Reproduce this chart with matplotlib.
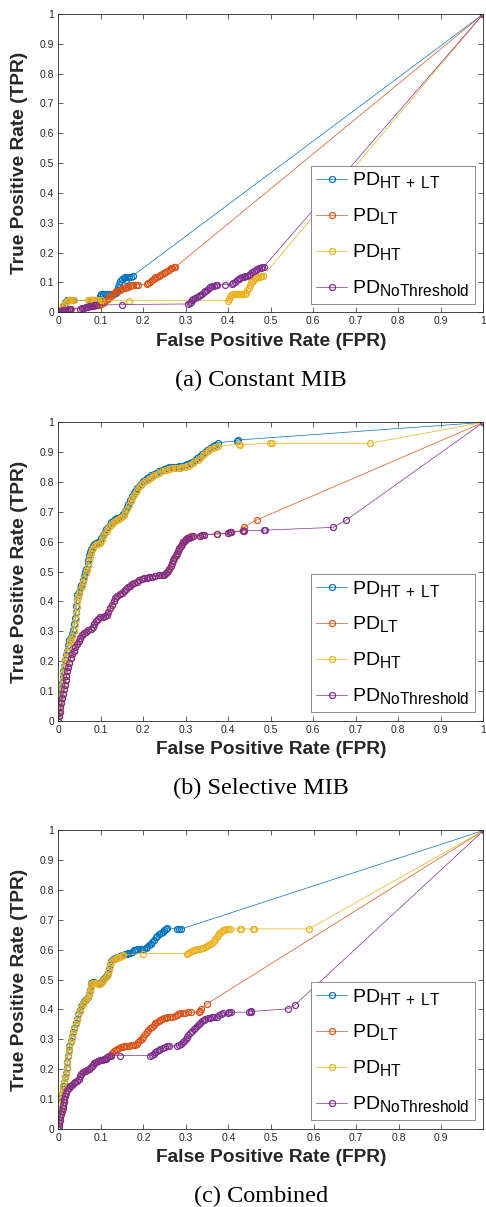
import matplotlib
matplotlib.use("Agg")
import matplotlib.pyplot as plt
import matplotlib._mathtext as mt

# MATLAB-style subscripts are only a little smaller than the base text
mt.SHRINK_FACTOR = 0.8

plt.rcParams["font.family"] = "Liberation Sans"
plt.rcParams["mathtext.fontset"] = "custom"
plt.rcParams["mathtext.rm"] = "Liberation Sans"

labels = [r"PD$_{\mathrm{HT\,+\,LT}}$", r"PD$_{\mathrm{LT}}$", r"PD$_{\mathrm{HT}}$", r"PD$_{\mathrm{NoThreshold}}$"]
colors = ["#0072BD", "#D95319", "#EDB120", "#7E2F8E"]
captions = ["(a) Constant MIB", "(b) Selective MIB", "(c) Combined"]

# ---------------- (a) Constant MIB ----------------
a_htlt_fpr = [0, 0.005, 0.01, 0.013, 0.016, 0.02, 0.025, 0.03, 0.035, 0.075, 0.08, 0.085, 0.09, 0.095, 0.098,
              0.1, 0.105, 0.11, 0.115, 0.12, 0.125, 0.13, 0.135, 0.138, 0.14, 0.143, 0.146, 0.15, 0.155, 0.158,
              0.159, 0.162, 0.166, 0.17, 0.175, 1]
a_htlt_tpr = [0, 0.005, 0.015, 0.025, 0.035, 0.04, 0.04, 0.04, 0.04, 0.04, 0.04, 0.04, 0.04, 0.045, 0.055,
              0.06, 0.06, 0.06, 0.06, 0.06, 0.06, 0.06, 0.065, 0.075, 0.085, 0.095, 0.105, 0.11, 0.115, 0.12,
              0.108, 0.12, 0.12, 0.12, 0.122, 1]
a_lt_fpr = [0, 0.005, 0.01, 0.015, 0.02, 0.025, 0.03, 0.055, 0.06, 0.065, 0.07, 0.075, 0.08, 0.085, 0.09, 0.095,
            0.1, 0.104, 0.108, 0.112, 0.116, 0.12, 0.124, 0.128, 0.132, 0.136, 0.14, 0.144, 0.148, 0.152, 0.156,
            0.16, 0.164, 0.168, 0.172, 0.176, 0.182, 0.188, 0.208, 0.212, 0.216, 0.22, 0.224, 0.228, 0.232,
            0.236, 0.24, 0.244, 0.248, 0.252, 0.256, 0.26, 0.264, 0.268, 0.272, 0.275, 1]
a_lt_tpr = [0, 0.003, 0.005, 0.007, 0.009, 0.011, 0.012, 0.013, 0.015, 0.017, 0.019, 0.02, 0.021, 0.022, 0.024, 0.025,
            0.027, 0.031, 0.035, 0.04, 0.045, 0.05, 0.055, 0.06, 0.065, 0.07, 0.073, 0.076, 0.078, 0.08, 0.082,
            0.084, 0.086, 0.088, 0.09, 0.092, 0.092, 0.092, 0.094, 0.098, 0.103, 0.108, 0.113, 0.117, 0.12,
            0.122, 0.125, 0.128, 0.131, 0.135, 0.139, 0.143, 0.147, 0.15, 0.152, 0.151, 1]
a_ht_fpr = [0, 0.004, 0.008, 0.012, 0.016, 0.02, 0.024, 0.028, 0.032, 0.036, 0.07, 0.074, 0.078, 0.082, 0.086,
            0.09, 0.094, 0.1, 0.166, 0.4, 0.402, 0.404, 0.407, 0.411, 0.415, 0.419, 0.423, 0.427, 0.431, 0.435,
            0.439, 0.442, 0.445, 0.448, 0.451, 0.454, 0.458, 0.462, 0.466, 0.47, 0.474, 0.478, 0.482, 1]
a_ht_tpr = [0, 0.008, 0.016, 0.024, 0.032, 0.038, 0.042, 0.042, 0.042, 0.04, 0.04, 0.04, 0.04, 0.04, 0.04,
            0.04, 0.04, 0.04, 0.039, 0.039, 0.045, 0.052, 0.058, 0.062, 0.062, 0.062, 0.062, 0.062, 0.062, 0.062,
            0.062, 0.066, 0.074, 0.083, 0.092, 0.1, 0.106, 0.112, 0.115, 0.118, 0.12, 0.122, 0.122, 1]
a_nt_fpr = [0, 0.004, 0.008, 0.012, 0.016, 0.02, 0.024, 0.028, 0.052, 0.056, 0.06, 0.064, 0.068, 0.072, 0.076,
            0.08, 0.084, 0.088, 0.149, 0.306, 0.309, 0.312, 0.315, 0.318, 0.322, 0.326, 0.33, 0.334, 0.338,
            0.342, 0.346, 0.35, 0.354, 0.358, 0.362, 0.366, 0.37, 0.374, 0.392, 0.408, 0.412, 0.416, 0.42,
            0.424, 0.428, 0.432, 0.436, 0.44, 0.444, 0.448, 0.452, 0.456, 0.46, 0.464, 0.468, 0.472, 0.476,
            0.48, 0.484, 1]
a_nt_tpr = [0, 0.003, 0.005, 0.007, 0.008, 0.009, 0.01, 0.011, 0.012, 0.014, 0.016, 0.018, 0.019, 0.02, 0.021,
            0.022, 0.023, 0.024, 0.026, 0.028, 0.032, 0.036, 0.04, 0.043, 0.047, 0.05, 0.054, 0.058, 0.062,
            0.067, 0.072, 0.076, 0.08, 0.084, 0.087, 0.089, 0.091, 0.092, 0.093, 0.094, 0.098, 0.103, 0.108,
            0.112, 0.115, 0.118, 0.12, 0.122, 0.123, 0.126, 0.13, 0.134, 0.138, 0.142, 0.145, 0.148, 0.15,
            0.152, 0.153, 1]

# ---------------- (b) Selective MIB ----------------
b_ht_fpr = [0, 0.002, 0.003, 0.004, 0.005, 0.007, 0.009, 0.011, 0.012, 0.014, 0.016, 0.019, 0.021, 0.024,
            0.027, 0.03, 0.033, 0.036, 0.039, 0.041, 0.042, 0.043, 0.044, 0.046, 0.049, 0.052, 0.055, 0.058,
            0.061, 0.064, 0.067, 0.07, 0.072, 0.074, 0.076, 0.079, 0.082, 0.086, 0.09, 0.094, 0.098, 0.102,
            0.106, 0.11, 0.114, 0.118, 0.122, 0.126, 0.13, 0.134, 0.138, 0.142, 0.146, 0.15, 0.154, 0.158,
            0.162, 0.166, 0.17, 0.174, 0.178, 0.182, 0.186, 0.19, 0.195, 0.2, 0.205, 0.21, 0.215, 0.22, 0.226,
            0.232, 0.238, 0.244, 0.25, 0.256, 0.262, 0.268, 0.274, 0.28, 0.286, 0.292, 0.298, 0.304, 0.31,
            0.316, 0.322, 0.328, 0.334, 0.34, 0.346, 0.352, 0.358, 0.364, 0.37, 0.376, 0.424, 0.427, 0.498,
            0.502, 0.733, 1]
b_ht_tpr = [0, 0.02, 0.04, 0.06, 0.08, 0.1, 0.12, 0.14, 0.16, 0.18, 0.2, 0.215, 0.23, 0.25,
            0.265, 0.275, 0.285, 0.3, 0.32, 0.34, 0.36, 0.38, 0.4, 0.415, 0.425, 0.44, 0.45, 0.465,
            0.48, 0.495, 0.505, 0.52, 0.535, 0.55, 0.562, 0.572, 0.58, 0.588, 0.592, 0.594, 0.597, 0.607,
            0.618, 0.628, 0.637, 0.645, 0.652, 0.66, 0.666, 0.67, 0.673, 0.676, 0.679, 0.682, 0.688, 0.698,
            0.71, 0.722, 0.735, 0.748, 0.757, 0.766, 0.775, 0.782, 0.79, 0.797, 0.803, 0.808, 0.813, 0.818, 0.823,
            0.827, 0.832, 0.836, 0.839, 0.842, 0.845, 0.846, 0.847, 0.847, 0.848, 0.849, 0.851, 0.854, 0.858,
            0.863, 0.869, 0.875, 0.882, 0.89, 0.897, 0.904, 0.91, 0.915, 0.918, 0.92, 0.927, 0.925, 0.93,
            0.93, 0.93, 1]
b_htlt_fpr = [0, 0.001, 0.002, 0.003, 0.004, 0.006, 0.008, 0.01, 0.011, 0.013, 0.015, 0.018, 0.02, 0.023,
              0.026, 0.029, 0.032, 0.035, 0.038, 0.04, 0.041, 0.042, 0.043, 0.045, 0.048, 0.051, 0.054, 0.057,
              0.06, 0.063, 0.066, 0.069, 0.071, 0.073, 0.075, 0.078, 0.081, 0.085, 0.089, 0.093, 0.097, 0.101,
              0.105, 0.109, 0.113, 0.117, 0.121, 0.125, 0.129, 0.133, 0.137, 0.141, 0.145, 0.149, 0.153, 0.157,
              0.161, 0.165, 0.169, 0.173, 0.177, 0.181, 0.185, 0.189, 0.194, 0.199, 0.204, 0.209, 0.214, 0.219,
              0.225, 0.231, 0.237, 0.243, 0.249, 0.255, 0.261, 0.267, 0.273, 0.279, 0.285, 0.291, 0.297, 0.303,
              0.309, 0.315, 0.321, 0.327, 0.333, 0.339, 0.345, 0.351, 0.357, 0.363, 0.369, 0.376, 0.42, 0.423, 1]
b_htlt_tpr = [0, 0.025, 0.045, 0.065, 0.085, 0.105, 0.125, 0.145, 0.165, 0.185, 0.205, 0.22, 0.235, 0.255,
              0.27, 0.28, 0.29, 0.305, 0.325, 0.345, 0.365, 0.385, 0.405, 0.42, 0.43, 0.445, 0.455, 0.47,
              0.485, 0.5, 0.51, 0.525, 0.54, 0.555, 0.567, 0.577, 0.585, 0.593, 0.597, 0.599, 0.602, 0.612,
              0.623, 0.633, 0.642, 0.65, 0.657, 0.665, 0.671, 0.675, 0.678, 0.681, 0.684, 0.687, 0.693, 0.703,
              0.715, 0.727, 0.74, 0.753, 0.762, 0.771, 0.78, 0.787, 0.795, 0.802, 0.808, 0.813, 0.818, 0.823,
              0.828, 0.832, 0.837, 0.841, 0.844, 0.847, 0.85, 0.851, 0.852, 0.852, 0.853, 0.854, 0.856, 0.859,
              0.863, 0.868, 0.874, 0.88, 0.887, 0.895, 0.902, 0.909, 0.915, 0.92, 0.924, 0.932, 0.938, 0.941, 1]
b_nt_fpr = [0, 0.002, 0.004, 0.005, 0.007, 0.009, 0.011, 0.013, 0.015, 0.017, 0.019, 0.021, 0.023, 0.026,
            0.029, 0.032, 0.036, 0.04, 0.044, 0.048, 0.052, 0.056, 0.061, 0.066, 0.071, 0.076, 0.081, 0.085,
            0.089, 0.094, 0.099, 0.104, 0.109, 0.114, 0.118, 0.122, 0.126, 0.13, 0.134, 0.139, 0.144, 0.149,
            0.154, 0.159, 0.164, 0.169, 0.174, 0.179, 0.184, 0.19, 0.196, 0.202, 0.208, 0.214, 0.22, 0.228,
            0.236, 0.243, 0.249, 0.254, 0.258, 0.261, 0.264, 0.267, 0.27, 0.273, 0.276, 0.279, 0.282, 0.285,
            0.288, 0.291, 0.294, 0.298, 0.302, 0.307, 0.312, 0.317, 0.334, 0.338, 0.342, 0.373, 0.4, 0.403,
            0.406, 0.434, 0.437, 0.484, 0.487, 0.647, 0.678, 1]
b_nt_tpr = [0, 0.015, 0.03, 0.045, 0.06, 0.075, 0.09, 0.105, 0.12, 0.135, 0.15, 0.165, 0.18, 0.195,
            0.21, 0.222, 0.235, 0.247, 0.258, 0.268, 0.278, 0.287, 0.293, 0.298, 0.303, 0.308, 0.315, 0.325,
            0.335, 0.342, 0.346, 0.348, 0.351, 0.356, 0.366, 0.377, 0.389, 0.4, 0.41, 0.418, 0.424, 0.428,
            0.434, 0.441, 0.447, 0.452, 0.457, 0.462, 0.466, 0.47, 0.474, 0.477, 0.479, 0.481, 0.483, 0.485,
            0.487, 0.488, 0.49, 0.495, 0.502, 0.51, 0.52, 0.53, 0.538, 0.546, 0.554, 0.562, 0.57, 0.578,
            0.586, 0.593, 0.6, 0.606, 0.611, 0.614, 0.617, 0.619, 0.62, 0.623, 0.624, 0.626, 0.628, 0.631,
            0.632, 0.635, 0.637, 0.638, 0.639, 0.648, 0.673, 1]
b_lt_fpr = [0, 0.002, 0.004, 0.005, 0.007, 0.009, 0.011, 0.013, 0.015, 0.017, 0.019, 0.021, 0.023, 0.026,
            0.029, 0.032, 0.036, 0.04, 0.044, 0.048, 0.052, 0.056, 0.061, 0.066, 0.071, 0.076, 0.081, 0.085,
            0.089, 0.094, 0.099, 0.104, 0.109, 0.114, 0.118, 0.122, 0.126, 0.13, 0.134, 0.139, 0.144, 0.149,
            0.154, 0.159, 0.164, 0.169, 0.174, 0.179, 0.184, 0.19, 0.196, 0.202, 0.208, 0.214, 0.22, 0.228,
            0.236, 0.244, 0.251, 0.256, 0.26, 0.264, 0.267, 0.27, 0.273, 0.276, 0.279, 0.282, 0.285, 0.288,
            0.291, 0.294, 0.297, 0.3, 0.304, 0.308, 0.313, 0.318, 0.334, 0.338, 0.342, 0.373, 0.4, 0.403,
            0.406, 0.435, 0.438, 0.467, 1]
b_lt_tpr = [0, 0.015, 0.03, 0.045, 0.06, 0.075, 0.09, 0.105, 0.12, 0.135, 0.15, 0.165, 0.18, 0.195,
            0.21, 0.222, 0.235, 0.247, 0.258, 0.268, 0.278, 0.287, 0.293, 0.298, 0.303, 0.308, 0.315, 0.325,
            0.335, 0.342, 0.346, 0.348, 0.351, 0.356, 0.366, 0.377, 0.389, 0.4, 0.41, 0.418, 0.424, 0.428,
            0.434, 0.441, 0.447, 0.452, 0.457, 0.462, 0.466, 0.47, 0.474, 0.477, 0.479, 0.481, 0.483, 0.485,
            0.487, 0.488, 0.492, 0.499, 0.508, 0.518, 0.528, 0.536, 0.544, 0.552, 0.56, 0.568, 0.576, 0.584,
            0.591, 0.598, 0.604, 0.609, 0.613, 0.616, 0.618, 0.619, 0.62, 0.623, 0.624, 0.626, 0.628, 0.631,
            0.632, 0.639, 0.65, 0.673, 1]

# ---------------- (c) Combined ----------------
c_ht_fpr = [0, 0.002, 0.003, 0.004, 0.005, 0.006, 0.008, 0.01, 0.012, 0.014, 0.016, 0.018, 0.02, 0.021,
            0.022, 0.024, 0.026, 0.029, 0.032, 0.035, 0.038, 0.041, 0.044, 0.047, 0.05, 0.053, 0.057, 0.061,
            0.065, 0.069, 0.072, 0.074, 0.076, 0.078, 0.081, 0.085, 0.089, 0.094, 0.098, 0.102, 0.106, 0.11,
            0.114, 0.117, 0.12, 0.122, 0.125, 0.129, 0.133, 0.137, 0.141, 0.145, 0.149, 0.153, 0.198, 0.302,
            0.306, 0.31, 0.314, 0.318, 0.322, 0.327, 0.332, 0.337, 0.341, 0.345, 0.349, 0.353, 0.357, 0.361,
            0.365, 0.369, 0.372, 0.375, 0.378, 0.382, 0.386, 0.39, 0.395, 0.4, 0.404, 0.427, 0.43, 0.457,
            0.461, 0.59, 1]
c_ht_tpr = [0, 0.02, 0.04, 0.06, 0.08, 0.1, 0.115, 0.13, 0.14, 0.155, 0.17, 0.185, 0.2, 0.22,
            0.24, 0.26, 0.275, 0.29, 0.305, 0.32, 0.335, 0.35, 0.365, 0.38, 0.395, 0.408, 0.418, 0.425,
            0.432, 0.44, 0.45, 0.462, 0.474, 0.485, 0.489, 0.49, 0.487, 0.484, 0.485, 0.492, 0.5, 0.506,
            0.512, 0.52, 0.532, 0.545, 0.558, 0.565, 0.569, 0.572, 0.574, 0.576, 0.579, 0.583, 0.587, 0.587,
            0.589, 0.592, 0.596, 0.599, 0.6, 0.602, 0.604, 0.605, 0.606, 0.609, 0.612, 0.615, 0.618, 0.623,
            0.629, 0.636, 0.643, 0.65, 0.656, 0.661, 0.665, 0.667, 0.669, 0.67, 0.67, 0.67, 0.67, 0.67,
            0.67, 0.67, 1]
c_htlt_fpr = [0, 0.002, 0.003, 0.004, 0.005, 0.006, 0.008, 0.01, 0.012, 0.014, 0.016, 0.018, 0.02, 0.021,
              0.022, 0.024, 0.026, 0.029, 0.032, 0.035, 0.038, 0.041, 0.044, 0.047, 0.05, 0.053, 0.057, 0.061,
              0.065, 0.069, 0.072, 0.074, 0.076, 0.078, 0.081, 0.085, 0.089, 0.094, 0.098, 0.102, 0.106, 0.11,
              0.114, 0.117, 0.12, 0.122, 0.125, 0.129, 0.133, 0.137, 0.141, 0.145, 0.149, 0.153, 0.157, 0.161,
              0.165, 0.169, 0.173, 0.177, 0.181, 0.186, 0.191, 0.196, 0.201, 0.205, 0.209, 0.213, 0.217, 0.221,
              0.225, 0.229, 0.233, 0.237, 0.241, 0.245, 0.249, 0.253, 0.256, 0.28, 0.284, 0.288, 1]
c_htlt_tpr = [0, 0.022, 0.042, 0.062, 0.082, 0.102, 0.118, 0.133, 0.143, 0.158, 0.173, 0.188, 0.203, 0.223,
              0.243, 0.263, 0.278, 0.293, 0.308, 0.323, 0.338, 0.353, 0.368, 0.383, 0.398, 0.411, 0.421, 0.428,
              0.435, 0.443, 0.453, 0.465, 0.477, 0.488, 0.491, 0.492, 0.489, 0.487, 0.488, 0.495, 0.503, 0.509,
              0.515, 0.523, 0.535, 0.548, 0.561, 0.568, 0.572, 0.575, 0.577, 0.579, 0.582, 0.583, 0.585, 0.586,
              0.588, 0.59, 0.594, 0.598, 0.6, 0.601, 0.601, 0.602, 0.602, 0.605, 0.61, 0.615, 0.62, 0.627,
              0.634, 0.641, 0.647, 0.652, 0.656, 0.66, 0.665, 0.67, 0.673, 0.669, 0.669, 0.669, 1]
c_nt_fpr = [0, 0.001, 0.002, 0.003, 0.005, 0.006, 0.008, 0.01, 0.011, 0.013, 0.014, 0.016, 0.018, 0.021,
            0.024, 0.028, 0.032, 0.036, 0.04, 0.044, 0.048, 0.051, 0.054, 0.058, 0.063, 0.068, 0.073, 0.077,
            0.081, 0.085, 0.089, 0.093, 0.097, 0.102, 0.107, 0.111, 0.115, 0.119, 0.123, 0.145, 0.216, 0.22,
            0.224, 0.228, 0.232, 0.236, 0.24, 0.245, 0.25, 0.255, 0.26, 0.278, 0.283, 0.288, 0.292, 0.296,
            0.3, 0.303, 0.306, 0.31, 0.314, 0.318, 0.322, 0.326, 0.33, 0.334, 0.338, 0.342, 0.346, 0.351,
            0.356, 0.361, 0.366, 0.374, 0.378, 0.382, 0.386, 0.398, 0.402, 0.406, 0.449, 0.452, 0.454, 0.541,
            0.557, 1]
c_nt_tpr = [0, 0.01, 0.02, 0.03, 0.04, 0.05, 0.06, 0.07, 0.08, 0.09, 0.1, 0.11, 0.12, 0.13,
            0.137, 0.143, 0.148, 0.153, 0.157, 0.161, 0.166, 0.175, 0.184, 0.19, 0.193, 0.196, 0.2, 0.206,
            0.213, 0.219, 0.224, 0.228, 0.23, 0.231, 0.233, 0.235, 0.239, 0.243, 0.245, 0.245, 0.245, 0.248,
            0.252, 0.257, 0.261, 0.265, 0.268, 0.271, 0.274, 0.276, 0.277, 0.278, 0.28, 0.284, 0.289, 0.294,
            0.3, 0.307, 0.314, 0.321, 0.327, 0.333, 0.339, 0.345, 0.35, 0.355, 0.36, 0.364, 0.368, 0.371,
            0.372, 0.373, 0.373, 0.375, 0.38, 0.385, 0.388, 0.389, 0.39, 0.39, 0.391, 0.392, 0.393, 0.402,
            0.416, 1]
c_lt_fpr = [0, 0.001, 0.002, 0.003, 0.005, 0.006, 0.008, 0.01, 0.011, 0.013, 0.014, 0.016, 0.018, 0.021,
            0.024, 0.028, 0.032, 0.036, 0.04, 0.044, 0.048, 0.051, 0.054, 0.058, 0.063, 0.068, 0.073, 0.077,
            0.081, 0.085, 0.089, 0.093, 0.097, 0.102, 0.107, 0.111, 0.115, 0.119, 0.123, 0.127, 0.131, 0.135,
            0.139, 0.143, 0.147, 0.151, 0.155, 0.159, 0.166, 0.17, 0.175, 0.18, 0.184, 0.188, 0.192, 0.196,
            0.2, 0.204, 0.208, 0.212, 0.216, 0.22, 0.224, 0.228, 0.232, 0.236, 0.24, 0.244, 0.248, 0.252,
            0.256, 0.262, 0.268, 0.274, 0.278, 0.282, 0.286, 0.292, 0.298, 0.304, 0.312, 0.33, 0.333, 0.336,
            0.349, 1]
c_lt_tpr = [0, 0.01, 0.02, 0.03, 0.04, 0.05, 0.06, 0.07, 0.08, 0.09, 0.1, 0.11, 0.12, 0.13,
            0.137, 0.143, 0.148, 0.153, 0.157, 0.161, 0.166, 0.175, 0.184, 0.19, 0.193, 0.196, 0.2, 0.206,
            0.213, 0.219, 0.224, 0.228, 0.23, 0.231, 0.233, 0.235, 0.239, 0.243, 0.248, 0.254, 0.259, 0.264,
            0.268, 0.271, 0.273, 0.275, 0.277, 0.278, 0.278, 0.279, 0.28, 0.282, 0.285, 0.29, 0.296, 0.302,
            0.309, 0.316, 0.323, 0.33, 0.336, 0.342, 0.348, 0.353, 0.358, 0.362, 0.365, 0.368, 0.37, 0.372,
            0.373, 0.374, 0.375, 0.377, 0.382, 0.386, 0.388, 0.389, 0.389, 0.39, 0.39, 0.391, 0.395, 0.402,
            0.418, 1]

panels = [
    [(a_htlt_fpr, a_htlt_tpr), (a_lt_fpr, a_lt_tpr), (a_ht_fpr, a_ht_tpr), (a_nt_fpr, a_nt_tpr)],
    [(b_htlt_fpr, b_htlt_tpr), (b_lt_fpr, b_lt_tpr), (b_ht_fpr, b_ht_tpr), (b_nt_fpr, b_nt_tpr)],
    [(c_htlt_fpr, c_htlt_tpr), (c_lt_fpr, c_lt_tpr), (c_ht_fpr, c_ht_tpr), (c_nt_fpr, c_nt_tpr)],
]
# panel (c) stops just short of 1, so MATLAB left out the "1" tick there
xmax = [1.0, 1.0, 0.999]
n_xticks = [11, 11, 10]

W, H = 486, 1207
fig = plt.figure(figsize=(W / 100, H / 100), dpi=100)

ax_left, ax_right = 58.3, 483.3
ax_h = 298.3
bottoms = [312.3, 720.7, 1128.7]
caption_y = [380, 788, 1196]
axis_col = "#262626"

for i, curves in enumerate(panels):
    ax = fig.add_axes([ax_left / W, 1 - bottoms[i] / H, (ax_right - ax_left) / W, ax_h / H])
    for (fpr, tpr), lab, col in zip(curves, labels, colors):
        ax.plot(fpr, tpr, color=col, lw=0.5, marker="o", ms=4.3, mfc="none", mew=0.9, label=lab)
    xt = [k / 10 for k in range(n_xticks[i])]
    ax.set_xticks(xt)
    ax.set_xticklabels(["0"] + [f"{v:g}" for v in xt[1:]])
    ax.set_yticks([k / 10 for k in range(11)])
    ax.set_yticklabels(["0"] + [f"{k / 10:g}" for k in range(1, 11)])
    ax.set_xlim(0, xmax[i])
    ax.set_ylim(0, 1)
    ax.tick_params(direction="in", length=3.5, width=0.5, top=True, right=True, labelsize=7.5,
                   colors=axis_col, pad=3)
    for s in ax.spines.values():
        s.set_linewidth(0.6)
        s.set_color(axis_col)
    ax.set_xlabel("False Positive Rate (FPR)", fontsize=13.8, fontweight="bold", color=axis_col)
    ax.set_ylabel("True Positive Rate (TPR)", fontsize=13.8, fontweight="bold", color=axis_col)
    ax.xaxis.set_label_coords(0.5, -0.068)
    ax.yaxis.set_label_coords(-0.072, 0.5)
    leg = ax.legend(loc="lower right", fontsize=14, frameon=True, fancybox=False, framealpha=1,
                    edgecolor="#777777", handlelength=1.6, handletextpad=0.25, borderpad=0.25,
                    labelspacing=0.8, borderaxespad=0.45)
    leg.get_frame().set_linewidth(0.6)
    fig.text(261 / W, 1 - caption_y[i] / H, captions[i], family="Liberation Serif", fontsize=17.5,
             ha="center", va="center")

fig.savefig("out.png", dpi=100)
plt.close(fig)
